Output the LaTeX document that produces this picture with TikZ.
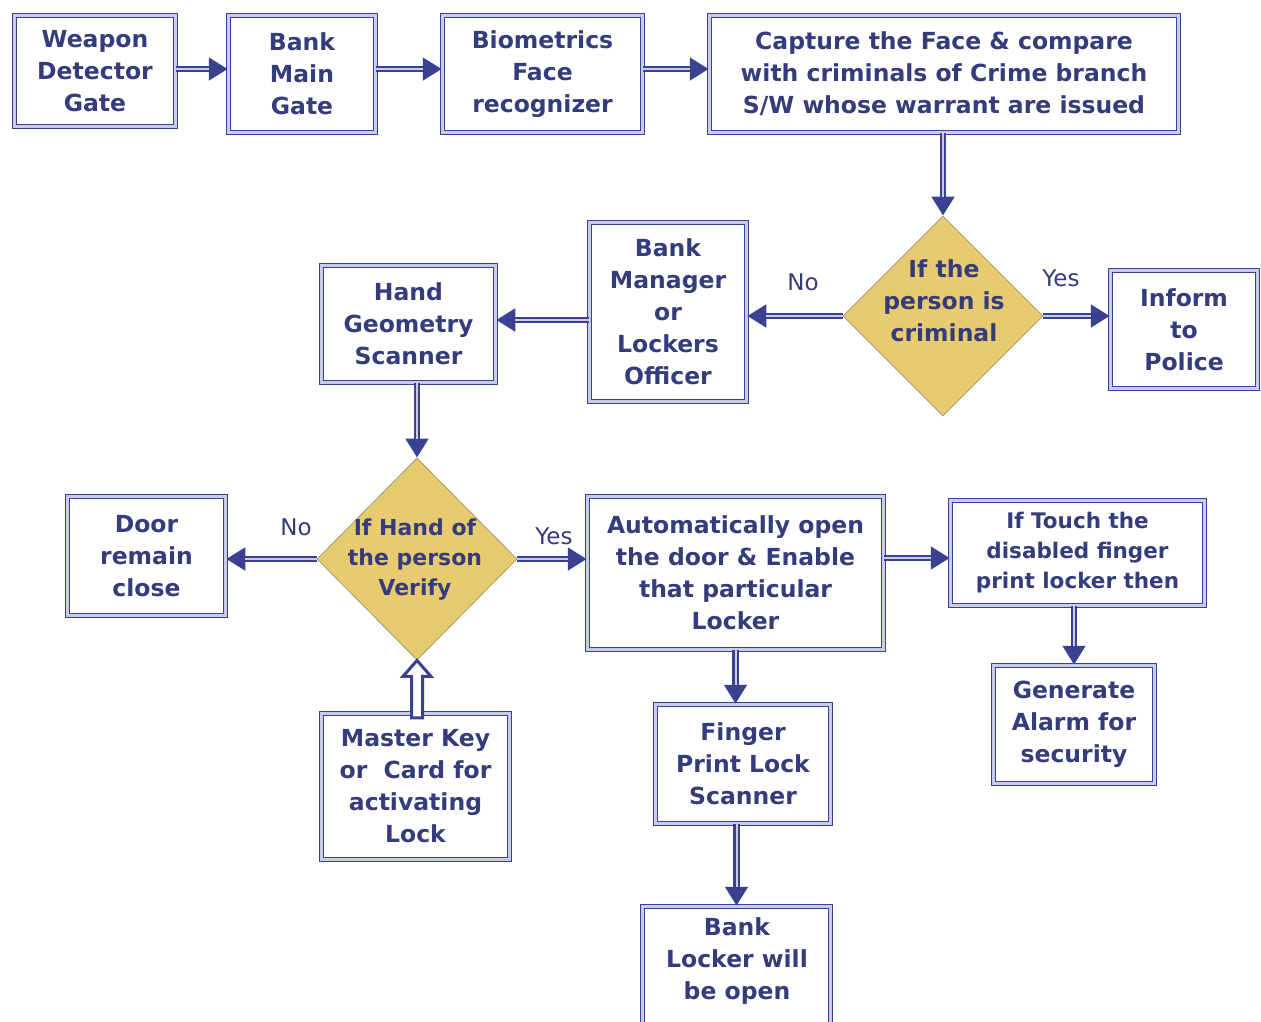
\documentclass[tikz,border=0pt]{standalone}
\usepackage{fontspec}
\setmainfont{DejaVu Sans}
\usetikzlibrary{shapes.geometric,arrows.meta,calc}
\definecolor{navy}{HTML}{3A4190}
\definecolor{txtc}{HTML}{343C7C}
\definecolor{lav}{HTML}{C9CBEA}
\definecolor{gold}{HTML}{E8CB70}
\definecolor{goldline}{HTML}{A49A68}
\begin{document}
\begin{tikzpicture}[x=1pt,y=-1pt,
 box/.style={rectangle, draw=navy, double=lav, line width=1.5pt, double distance=2.4pt, fill=white, inner sep=0pt, align=center, text=txtc, font=\fontsize{23.5}{32}\selectfont\bfseries},
 dia/.style={diamond, aspect=1, draw=goldline, line width=0.8pt, fill=gold, inner sep=0pt},
 diatext/.style={align=center, text=txtc, inner sep=0pt},
 lbl/.style={text=txtc, font=\fontsize{23}{28}\selectfont, inner sep=0pt},
 conn/.style={draw=navy, line width=6.5pt, -{Triangle[length=19pt,width=22pt]}, postaction={draw=lav, line width=2pt, shorten >=19pt, -}},
 hollow/.style={draw=navy, line width=3pt, fill=white, line join=miter}]
\fill[white] (0,0) rectangle (1261,1021);
\useasboundingbox (0,0) rectangle (1261,1021);
% top row
\node[box, minimum width=161, minimum height=111] (w) at (95,71) {Weapon\\Detector\\Gate};
\node[box, minimum width=147, minimum height=117] (b) at (302,74) {Bank\\Main\\Gate};
\node[box, minimum width=200, minimum height=117] (bio) at (542.5,74) {Biometrics\\Face\\recognizer};
\node[box, minimum width=469, minimum height=117] (cap) at (944,74) {Capture the Face \& compare\\with criminals of Crime branch\\S/W whose warrant are issued};
% second row
\node[dia, minimum width=200, minimum height=200] (d1) at (943,316) {};
\node[diatext, font=\fontsize{23.5}{32}\selectfont\bfseries] (d1t) at (944,301) {If the\\person is\\criminal};
\node[box, minimum width=147, minimum height=118] (police) at (1184,329.5) {Inform\\to\\Police};
\node[box, minimum width=157, minimum height=179] (mgr) at (668,312) {Bank\\Manager\\or\\Lockers\\Officer};
\node[box, minimum width=174, minimum height=117] (hand) at (408.5,324) {Hand\\Geometry\\Scanner};
% third row
\node[dia, minimum width=200, minimum height=202] (d2) at (417,559) {};
\node[diatext, font=\fontsize{22}{30}\selectfont\bfseries] (d2t) at (415,560) {If Hand of\\the person\\Verify};
\node[box, minimum width=158, minimum height=119] (door) at (146.5,556) {Door\\remain\\close};
\node[box, minimum width=296, minimum height=153] (auto) at (735.5,573) {Automatically open\\the door \& Enable\\that particular\\Locker};
\node[box, minimum width=254, minimum height=105, font=\fontsize{21.5}{30}\selectfont\bfseries] (touch) at (1077.5,553) {If Touch the\\disabled finger\\print locker then};
\node[box, minimum width=161, minimum height=118] (alarm) at (1074,724.5) {Generate\\Alarm for\\security};
\node[box, minimum width=175, minimum height=119] (finger) at (743,764) {Finger\\Print Lock\\Scanner};
\node[box, minimum width=188, minimum height=146] (master) at (415.5,786.5) {Master Key\\or\ \ Card for\\activating\\Lock};
\node[box, minimum width=188, minimum height=131] (locker) at (736.5,972) {};
\node[diatext, font=\fontsize{23.5}{32}\selectfont\bfseries] (lockert) at (737,961) {Bank\\Locker will\\be open};
% labels
\node[lbl] (l1) at (803,282) {No};
\node[lbl] (l2) at (1061,278) {Yes};
\node[lbl] (l3) at (296,527) {No};
\node[lbl] (l4) at (554,536) {Yes};
% connectors
\draw[conn] (w.east |- 0,69) -- (b.west |- 0,69);
\draw[conn] (b.east |- 0,69) -- (bio.west |- 0,69);
\draw[conn] (bio.east |- 0,69) -- (cap.west |- 0,69);
\draw[conn] (cap.south -| d1.north) -- (d1.north);
\draw[conn] (d1.east) -- (d1.east -| police.west);
\draw[conn] (d1.west) -- (d1.west -| mgr.east);
\draw[conn] (mgr.west |- 0,320) -- (hand.east |- 0,320);
\draw[conn] (d2.north |- hand.south) -- (d2.north);
\draw[conn] (d2.west) -- (d2.west -| door.east);
\draw[conn] (d2.east) -- (d2.east -| auto.west);
\draw[conn] (auto.east |- 0,558) -- (touch.west |- 0,558);
\draw[conn] (alarm.north |- touch.south) -- (alarm.north);
\draw[conn] (auto.south) -- (finger.north -| auto.south);
\draw[conn] (finger.south -| locker.north) -- (locker.north);
% hollow arrow from master key to diamond
\draw[hollow] (d2.south) -- ($(d2.south)+(14,16)$) -- ($(d2.south)+(5.5,16)$)
  -- ($(d2.south |- master.north)+(5.5,5)$) -- ($(d2.south |- master.north)+(-5.5,5)$)
  -- ($(d2.south)+(-5.5,16)$) -- ($(d2.south)+(-14,16)$) -- cycle;
\end{tikzpicture}
\end{document}
